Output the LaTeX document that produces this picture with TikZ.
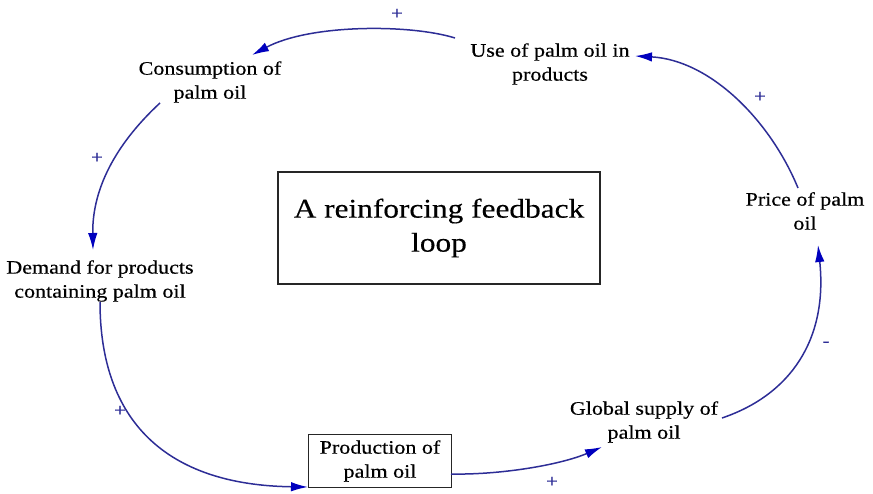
\documentclass[tikz,border=0pt]{standalone}
\usepackage{fontspec}
\setmainfont{Liberation Serif}[FakeStretch=1.16,FakeBold=0.4]
\usetikzlibrary{calc,arrows.meta}
\definecolor{linkc}{RGB}{45,45,150}
\definecolor{headc}{RGB}{0,0,190}
\begin{document}
\begin{tikzpicture}[x=1pt,y=-1pt,
  var/.style={inner sep=0pt,align=center,font=\fontsize{19}{24}\selectfont},
  boxed/.style={draw=black!85,line width=1.5pt,align=center,inner sep=0pt},
  link/.style={draw=linkc,line width=1.5pt,-{Latex[length=17pt,width=9.5pt,fill=headc,color=headc]}},
  sign/.style={text=linkc,inner sep=0pt,font=\fontsize{18}{18}\selectfont}]
\useasboundingbox (0,0) rectangle (873,494);
\node[var] (use) at (550,64) {Use of palm oil in\\products};
\node[var] (cons) at (210,82) {Consumption of\\palm oil};
\node[var] (demand) at (100,281) {Demand for products\\containing palm oil};
\node[boxed,var,minimum width=143pt,minimum height=53pt] (prod) at (380,461) {Production of\\palm oil};
\node[var] (global) at (644,422) {Global supply of\\palm oil};
\node[var] (price) at (805,211) {Price of palm\\oil};
\node[boxed,minimum width=322pt,minimum height=112pt,font=\fontsize{27}{34}\selectfont] (loop) at (439,228) {A reinforcing feedback\\loop};
% connectors
\draw[link] ($(use)+(-95,-26)$) .. controls (410,24) and (310,24) .. ($(cons)+(42,-27)$);
\draw[link] ($(cons)+(-50,21)$) .. controls (120,140) and (92,185) .. ($(demand)+(-7,-31)$);
\draw[link] ($(demand)+(0,21)$) .. controls (100,420) and (165,485) .. ($(prod)+(-72,26)$);
\draw[link] ($(prod)+(71,13)$) .. controls (500,475) and (560,465) .. ($(global)+(-42,25)$);
\draw[link] ($(global)+(78,-4)$) .. controls (790,395) and (828,340) .. ($(price)+(13,34)$);
\draw[link] ($(price)+(-7,-23)$) .. controls (770,120) and (710,60) .. ($(use)+(85,-8)$);
% polarity signs
\node[sign] (s1) at (397,14) {+};
\node[sign] (s2) at (97,158) {+};
\node[sign] (s3) at (120,411) {+};
\node[sign] (s4) at (552,482) {+};
\node[sign] (s5) at (826,344) {-};
\node[sign] (s6) at (760,97) {+};
\end{tikzpicture}
\end{document}
